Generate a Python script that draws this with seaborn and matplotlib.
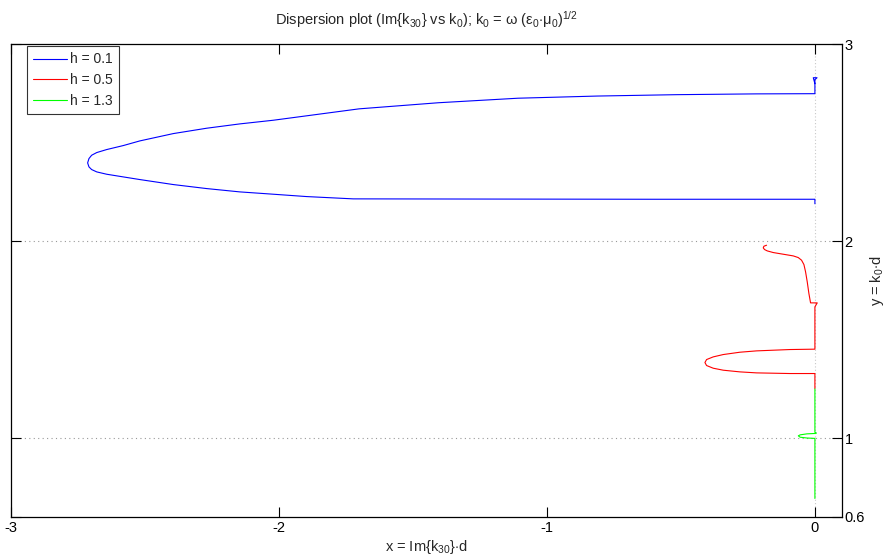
import matplotlib
matplotlib.use("Agg")
import matplotlib.pyplot as plt
import seaborn as sns
import pandas as pd

# ---- data ----
labels = ["h = 0.1", "h = 0.5", "h = 1.3"]
colors = ["#0000ff", "#ff0000", "#00ff00"]

blue_x = [0.0, 0.0, -0.6, -1.2, -1.723,
          -1.897, -2.021, -2.146, -2.270, -2.394, -2.519, -2.581, -2.643, -2.680, -2.699, -2.709,
          -2.714,
          -2.709, -2.699, -2.680, -2.643, -2.581, -2.519, -2.394, -2.270, -2.146, -2.021,
          -1.701, -1.405, -1.108, -0.812, -0.515, -0.219, 0.0,
          0.0, 0.0, 0.008, -0.006, 0.0]
blue_y = [2.19, 2.213, 2.213, 2.214, 2.215,
          2.2267, 2.2386, 2.2504, 2.2673, 2.2876, 2.3130, 2.3265, 2.3401, 2.3519, 2.3638, 2.3773,
          2.3976,
          2.4196, 2.4365, 2.4501, 2.4653, 2.4856, 2.5093, 2.5465, 2.5736, 2.5956, 2.6142,
          2.672, 2.703, 2.726, 2.737, 2.744, 2.748, 2.749,
          2.80, 2.82, 2.83, 2.83, 2.80]

red_x = [-0.1803, -0.1903, -0.1928, -0.1878, -0.1779, -0.1555, -0.1182, -0.0809, -0.0622, -0.0498,
         -0.0410, -0.0348, -0.0286, -0.0224, -0.0162, 0.0087, 0.0, 0.0,
         0.0, -0.0933, -0.2177, -0.2799, -0.3420, -0.3794, -0.4042, -0.4104,
         -0.4042, -0.3794, -0.3420, -0.2799, -0.2177, -0.0933, 0.0, 0.0]
red_y = [1.9797, 1.9746, 1.9662, 1.9577, 1.9509, 1.9425, 1.9340, 1.9255, 1.9171, 1.9036,
         1.8816, 1.8443, 1.7936, 1.7344, 1.6870, 1.6870, 1.6667, 1.55,
         1.4520, 1.4501, 1.4433, 1.4365, 1.4247, 1.4128, 1.3993, 1.3841,
         1.3689, 1.3553, 1.3452, 1.3367, 1.3316, 1.3283, 1.3283, 1.252]

green_x = [0.0, 0.0, 0.006, 0.0, -0.03, -0.055, -0.062, -0.055, -0.03, 0.0, 0.0]
green_y = [1.25, 1.03, 1.026, 1.024, 1.022, 1.017, 1.012, 1.005, 1.001, 0.999, 0.694]

x_ticks = [-3, -2, -1, 0]
y_ticks = [0.6, 1, 2, 3]

frames = []
for lab, xs, ys in zip(labels, [blue_x, red_x, green_x], [blue_y, red_y, green_y]):
    frames.append(pd.DataFrame({"x": xs, "y": ys, "h": lab}))
df = pd.concat(frames, ignore_index=True)

sns.set_theme(style="white")
plt.rcParams["font.family"] = ["Liberation Sans", "DejaVu Sans"]
plt.rcParams["mathtext.fontset"] = "custom"
plt.rcParams["mathtext.rm"] = "Liberation Sans"
plt.rcParams["mathtext.it"] = "Liberation Sans"

fig = plt.figure(figsize=(8.86, 5.6), dpi=100)
ax = fig.add_axes([0.0124, 0.0768, 0.9376, 0.8442])

# dotted reference lines
for yv in [1, 2]:
    ax.axhline(yv, color="#999999", linestyle=(0, (1, 3)), linewidth=0.8, zorder=0)
ax.axvline(0, color="#c8c8c8", linestyle=(0, (1, 2)), linewidth=0.8, zorder=0)

sns.lineplot(data=df, x="x", y="y", hue="h", sort=False, estimator=None,
             palette=dict(zip(labels, colors)), linewidth=0.8, ax=ax)

ax.set_xlim(-3, 0.1)
ax.set_ylim(0.6, 3)
ax.set_xticks(x_ticks)
ax.set_xticklabels(["-3", "-2", "-1", "0"])
ax.set_yticks(y_ticks)
ax.set_yticklabels(["0.6", "1", "2", "3"])
ax.yaxis.tick_right()
ax.yaxis.set_label_position("right")
ax.tick_params(axis="both", which="both", direction="in", length=7, width=0.8,
               top=True, bottom=True, left=True, right=True, labelsize=10.5, colors="black",
               labelleft=False, labelright=True, pad=3)
ax.tick_params(axis="y", pad=2)
for s in ax.spines.values():
    s.set_color("black")
    s.set_linewidth(0.9)
    s.set_visible(True)

ax.set_xlabel(r"x = Im{k$_{30}$}$\cdot$d", fontsize=10.5, labelpad=2)
ax.set_ylabel(r"y = k$_0$$\cdot$d", fontsize=10.5, labelpad=2)
ax.set_title(r"Dispersion plot (Im{k$_{30}$} vs k$_0$); k$_0$ = ω (ε$_0$$\cdot$μ$_0$)$^{1/2}$",
             fontsize=10.5, pad=14)

leg = ax.legend(loc="upper left", bbox_to_anchor=(0.0193, 0.9958), borderaxespad=0,
                frameon=True, fontsize=10, handlelength=2.45, handletextpad=0.22,
                borderpad=0.45, labelspacing=0.48, fancybox=False)
leg.get_frame().set_edgecolor("black")
leg.get_frame().set_linewidth(0.8)
leg.set_title(None)

fig.savefig("out.png", dpi=100)
